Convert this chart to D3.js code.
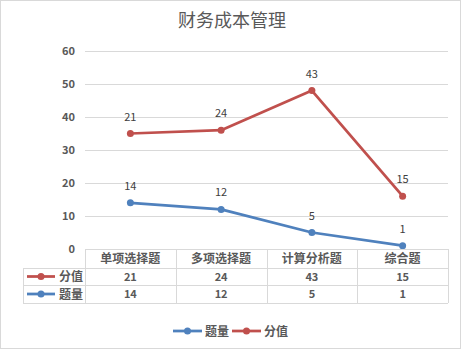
<!DOCTYPE html>
<html>
<head>
<meta charset="utf-8">
<script src="https://cdn.jsdelivr.net/npm/d3@7"></script>
<style>
  body { margin: 0; background: #fff; }
  svg text { font-family: "Noto Sans CJK SC", "DejaVu Sans", sans-serif; }
</style>
</head>
<body>
<svg id="chart" width="464" height="352"></svg>
<script>
const title = '财务成本管理'
const categories = ['单项选择题', '多项选择题', '计算分析题', '综合题']
const countValues = [14, 12, 5, 1]   // 题量
const scoreValues = [21, 24, 43, 15] // 分值
const yTicks = [0, 10, 20, 30, 40, 50, 60]

const series = [
  { key: '题量', values: countValues, color: '#4f81bd' },
  { key: '分值', values: scoreValues, color: '#c0504d' }
]

const svg = d3.select('#chart')
const plotLeft = 85, plotRight = 448, plotTop = 51, plotBottom = 249

// outer frame
svg.append('rect')
  .attr('x', 0.5).attr('y', 0.5).attr('width', 460).attr('height', 348)
  .attr('fill', '#fff').attr('stroke', '#d9d9d9')

svg.append('text')
  .attr('x', 232).attr('y', 27)
  .attr('text-anchor', 'middle')
  .attr('font-size', 18).attr('fill', '#595959')
  .text(title)

const x = d3.scaleBand().domain(categories).range([plotLeft, plotRight])
const y = d3.scaleLinear().domain([0, 60]).range([plotBottom, plotTop])

// gridlines
svg.append('g')
  .selectAll('line')
  .data(yTicks.filter(t => t > 0))
  .join('line')
  .attr('x1', plotLeft).attr('x2', plotRight)
  .attr('y1', d => y(d) + 0.5).attr('y2', d => y(d) + 0.5)
  .attr('stroke', '#d9d9d9')

// y axis labels
const yAxis = svg.append('g')
  .attr('transform', `translate(${plotLeft - 10},0)`)
  .call(d3.axisLeft(y).tickValues(yTicks).tickSize(0).tickPadding(0))
yAxis.select('.domain').remove()
yAxis.selectAll('text')
  .attr('font-size', 11).attr('font-weight', 'bold').attr('fill', '#595959')

// stacked line data
const rows = categories.map((c, i) => ({ cat: c, '题量': countValues[i], '分值': scoreValues[i] }))
const stacked = d3.stack().keys(series.map(s => s.key))(rows)

const line = d3.line()
  .x(d => x(d.data.cat) + x.bandwidth() / 2)
  .y(d => y(d[1]))

stacked.forEach((layer, si) => {
  const s = series[si]
  const g = svg.append('g')
  g.append('path')
    .datum(layer)
    .attr('d', line)
    .attr('fill', 'none')
    .attr('stroke', s.color)
    .attr('stroke-width', 2.75)
    .attr('stroke-linejoin', 'round')
  g.selectAll('circle')
    .data(layer)
    .join('circle')
    .attr('cx', d => x(d.data.cat) + x.bandwidth() / 2)
    .attr('cy', d => y(d[1]))
    .attr('r', 3.5)
    .attr('fill', s.color)
  g.selectAll('text')
    .data(layer)
    .join('text')
    .attr('x', d => x(d.data.cat) + x.bandwidth() / 2)
    .attr('y', d => y(d[1]) - 13)
    .attr('text-anchor', 'middle')
    .attr('font-size', 11).attr('fill', '#404040')
    .text(d => d.data[s.key])
})

// data table
const tableLeft = 23
const rowY = [249, 268, 285, 303]
const tbl = svg.append('g')
const gridColor = '#d9d9d9'
// horizontal lines
tbl.append('line').attr('x1', plotLeft).attr('x2', plotRight)
  .attr('y1', rowY[0] + 0.5).attr('y2', rowY[0] + 0.5).attr('stroke', gridColor)
rowY.slice(1).forEach(r => {
  tbl.append('line').attr('x1', tableLeft).attr('x2', plotRight)
    .attr('y1', r + 0.5).attr('y2', r + 0.5).attr('stroke', gridColor)
})
// vertical lines
const colEdges = [plotLeft].concat(categories.map(c => x(c) + x.bandwidth()))
colEdges.forEach(cx => {
  tbl.append('line').attr('x1', Math.round(cx) + 0.5).attr('x2', Math.round(cx) + 0.5)
    .attr('y1', rowY[0]).attr('y2', rowY[3]).attr('stroke', gridColor)
})
tbl.append('line').attr('x1', tableLeft + 0.5).attr('x2', tableLeft + 0.5)
  .attr('y1', rowY[1]).attr('y2', rowY[3]).attr('stroke', gridColor)

// header row
tbl.selectAll('.hdr')
  .data(categories)
  .join('text')
  .attr('x', d => x(d) + x.bandwidth() / 2)
  .attr('y', (rowY[0] + rowY[1]) / 2 + 4.5)
  .attr('text-anchor', 'middle')
  .attr('font-size', 12).attr('font-weight', 'bold').attr('fill', '#595959')
  .text(d => d)

// value rows: 分值 first, then 题量
const tableRows = [series[1], series[0]]
tableRows.forEach((s, ri) => {
  const cy = (rowY[ri + 1] + rowY[ri + 2]) / 2
  tbl.append('line')
    .attr('x1', 27).attr('x2', 55).attr('y1', cy).attr('y2', cy)
    .attr('stroke', s.color).attr('stroke-width', 2.75)
  tbl.append('circle').attr('cx', 41).attr('cy', cy).attr('r', 3.5).attr('fill', s.color)
  tbl.append('text')
    .attr('x', 59).attr('y', cy + 4.5)
    .attr('font-size', 12).attr('font-weight', 'bold').attr('fill', '#595959')
    .text(s.key)
  tbl.selectAll(null)
    .data(s.values)
    .join('text')
    .attr('x', (d, i) => x(categories[i]) + x.bandwidth() / 2)
    .attr('y', cy + 4)
    .attr('text-anchor', 'middle')
    .attr('font-size', 11).attr('font-weight', 'bold').attr('fill', '#595959')
    .text(d => d)
})

// legend
const legend = svg.append('g')
const legendItems = [
  { s: series[0], x0: 173 },
  { s: series[1], x0: 232 }
]
legendItems.forEach(item => {
  const ly = 331
  legend.append('line')
    .attr('x1', item.x0).attr('x2', item.x0 + 29).attr('y1', ly).attr('y2', ly)
    .attr('stroke', item.s.color).attr('stroke-width', 2.75)
  legend.append('circle').attr('cx', item.x0 + 14.5).attr('cy', ly).attr('r', 3.5)
    .attr('fill', item.s.color)
  legend.append('text')
    .attr('x', item.x0 + 32).attr('y', ly + 4.5)
    .attr('font-size', 12).attr('font-weight', 'bold').attr('fill', '#595959')
    .text(item.s.key)
})
</script>
</body>
</html>
